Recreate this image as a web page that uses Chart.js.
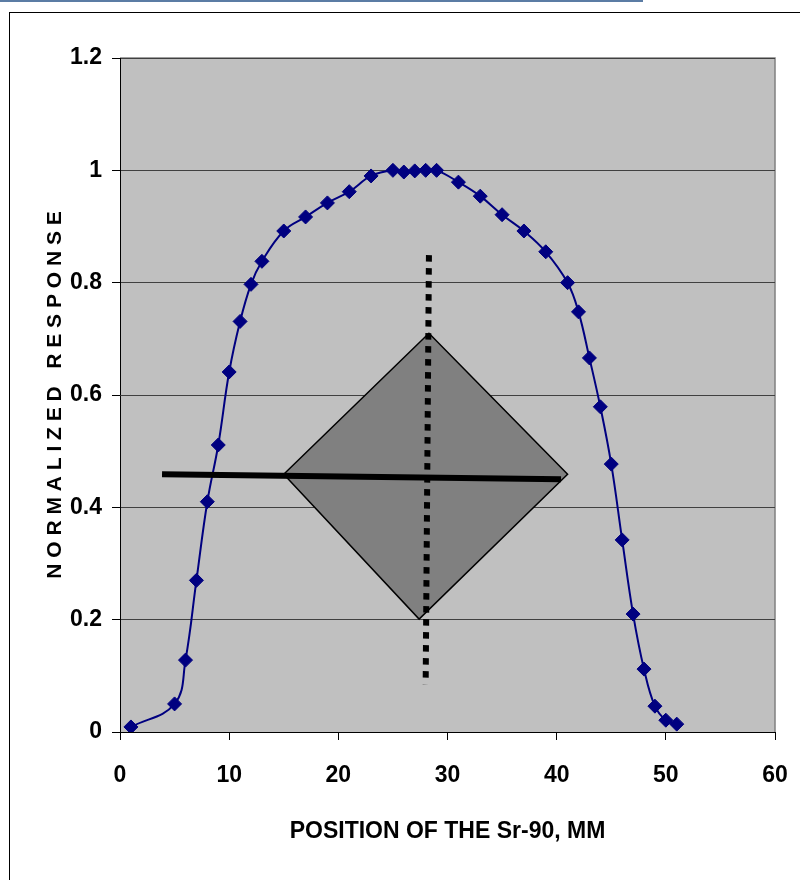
<!DOCTYPE html>
<html>
<head>
<meta charset="utf-8">
<script src="https://cdn.jsdelivr.net/npm/chart.js@4.4.1/dist/chart.umd.min.js"></script>
<style>
  html, body { margin: 0; padding: 0; background: #fff; }
  body { width: 800px; height: 880px; position: relative; overflow: hidden; }
  #topline { position: absolute; left: 0; top: 0; width: 643px; height: 2px; background: #5b7ca4; }
  #frame { position: absolute; left: 9px; top: 12px; width: 900px; height: 900px; border: 1.5px solid #000; }
  #grafica { position: absolute; left: 0; top: 0; }
</style>
</head>
<body>
<div id="topline"></div>
<div id="frame"></div>
<canvas id="grafica" width="800" height="880"></canvas>
<script>
// detector scan across the source
var posiciones = [1, 5, 6, 7, 8, 9, 10, 11, 12, 13, 15, 17, 19, 21, 23, 25, 26, 27, 28, 29,
                  31, 33, 35, 37, 39, 41, 42, 43, 44, 45, 46, 47, 48, 49, 50, 51];
var respuesta = [0.009, 0.05, 0.128, 0.27, 0.41, 0.511, 0.641, 0.731, 0.797, 0.838,
                 0.892, 0.917, 0.942, 0.962, 0.99, 1.0, 0.997, 0.999, 1.0, 1.0,
                 0.979, 0.954, 0.921, 0.892, 0.855, 0.80, 0.748, 0.666, 0.579, 0.477,
                 0.342, 0.21, 0.112, 0.046, 0.021, 0.014];

// source sketch drawn over the plot
var romboX = [15.0, 28.3, 41.0, 27.4, 15.0];
var romboY = [0.459, 0.71, 0.459, 0.201, 0.459];
var barraX = [3.85, 40.4];
var barraY = [0.459, 0.450];
var ejeX = [28.3, 28.0];
var ejeY = [0.849, 0.085];

var ticksX = [0, 60, 10];   // min, max, step
var ticksY = [0, 1.2, 0.2];

function puntos(xs, ys) {
    var out = [];
    for (var i = 0; i < xs.length; i++) out.push({x: xs[i], y: ys[i]});
    return out;
}

var fondo = {
    id: 'fondo',
    beforeDraw: function (chart) {
        var a = chart.chartArea, c = chart.ctx;
        c.save();
        c.fillStyle = '#c0c0c0';
        c.fillRect(a.left, a.top, a.right - a.left, a.bottom - a.top);
        c.strokeStyle = '#808080';
        c.lineWidth = 1.5;
        c.beginPath();
        c.moveTo(a.left, a.top);
        c.lineTo(a.right, a.top);
        c.lineTo(a.right, a.bottom);
        c.stroke();
        c.restore();
    }
};

var estrecha = "'Liberation Sans Narrow', 'Arial Narrow', 'Liberation Sans', Arial, sans-serif";

var ctx = document.getElementById('grafica').getContext('2d');
var grafica = new Chart(ctx, {
    type: 'scatter',
    data: {
        datasets: [{
            data: puntos(ejeX, ejeY),
            showLine: true,
            borderColor: '#000',
            borderWidth: 6,
            borderDash: [6.5, 6.5],
            pointRadius: 0,
            order: 0
        }, {
            data: puntos(barraX, barraY),
            showLine: true,
            borderColor: '#000',
            borderWidth: 6,
            pointRadius: 0,
            order: 1
        }, {
            data: puntos(posiciones, respuesta),
            showLine: true,
            borderColor: '#000080',
            borderWidth: 2,
            tension: 0.4,
            pointStyle: 'rectRot',
            pointRadius: 7,
            pointBackgroundColor: '#000080',
            pointBorderColor: '#000080',
            pointBorderWidth: 1,
            order: 2
        }, {
            data: puntos(romboX, romboY),
            showLine: true,
            fill: 'shape',
            backgroundColor: '#808080',
            borderColor: '#000',
            borderWidth: 1.5,
            pointRadius: 0,
            order: 3
        }]
    },
    options: {
        responsive: false,
        animation: false,
        layout: { padding: { left: 0, top: 58, right: 25, bottom: 0 } },
        plugins: { legend: { display: false }, tooltip: { enabled: false } },
        scales: {
            x: {
                type: 'linear',
                min: ticksX[0], max: ticksX[1],
                ticks: { stepSize: ticksX[2], color: '#000', padding: 22,
                         font: { family: estrecha, size: 23, weight: 'bold' } },
                grid: { drawOnChartArea: false, tickLength: 8, tickColor: '#000' },
                border: { color: '#000', width: 1 },
                title: { display: true, text: 'POSITION OF THE Sr-90, MM', color: '#000',
                         padding: { top: 0, bottom: 35 },
                         font: { family: estrecha, size: 23, weight: 'bold' } },
                afterFit: function (s) {
                    s.height = 148;
                    s.paddingLeft = 0;
                    s.paddingRight = 0;
                }
            },
            y: {
                min: ticksY[0], max: ticksY[1],
                ticks: { stepSize: ticksY[2], color: '#000', padding: 10,
                         font: { family: estrecha, size: 23, weight: 'bold' },
                         callback: function (v) { return String(Number(v.toFixed(1))); } },
                grid: { color: '#404040', lineWidth: 1, tickLength: 8, tickColor: '#000' },
                border: { color: '#000', width: 1 },
                title: { display: true, text: 'N O R M A L I Z E D   R E S P O N S E', color: '#000',
                         padding: { top: 43, bottom: 0 },
                         font: { family: "'Liberation Sans', Arial, sans-serif", size: 21, weight: 'bold' } },
                afterFit: function (s) { s.width = 120; }
            }
        }
    },
    plugins: [fondo]
});
</script>
</body>
</html>
